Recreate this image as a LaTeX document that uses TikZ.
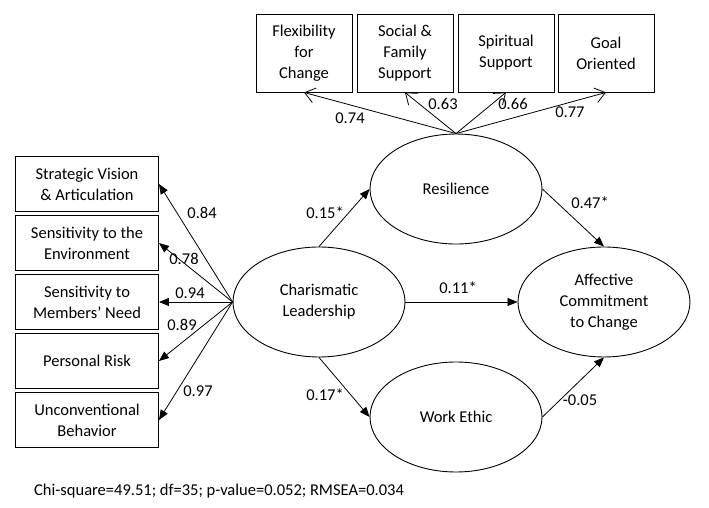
\documentclass[tikz,border=0pt]{standalone}
\usepackage{fontspec}
\setmainfont{Carlito}
\usepackage{tikz}
\usetikzlibrary{arrows.meta,shapes.geometric}
\definecolor{figline}{RGB}{0,0,0}
\newcommand{\fsz}{\fontsize{16.5}{21}\selectfont}
\tikzset{
  ind/.style  ={draw=figline, line width=0.9pt, rectangle, align=center, inner sep=2pt},
  indt/.style ={ind, minimum width=3.374cm, minimum height=2.741cm},
  indl/.style ={ind, minimum width=5.026cm, minimum height=1.933cm},
  lat/.style  ={draw=figline, line width=0.9pt, ellipse, align=center, inner sep=2pt,
                minimum width=6.045cm, minimum height=3.866cm},
  lab/.style  ={font=\fsz, inner sep=1pt},
  ptr/.style  ={draw=figline, line width=0.8pt, -{Triangle[length=10pt,width=8pt]}},
  ptro/.style ={draw=figline, line width=0.8pt, -{Straight Barb[length=10pt,width=15pt]}},
}

\begin{document}
\begin{tikzpicture}[scale=1, every node/.style={font=\fsz}]
  \useasboundingbox (0,0) rectangle (24.919,-17.854);
  % latent variables
  \node[lat] (cha) at (11.212,-10.614) {Charismatic\\Leadership};
  \node[lat] (res) at (16.027,-6.643) {Resilience};
  \node[lat] (we)  at (16.027,-14.656) {Work Ethic};
  \node[lat] (aff) at (21.228,-10.614) {Affective\\Commitment\\to Change};
  % resilience indicators
  \node[indt] (flex) at (10.684,-1.863) {Flexibility\\for\\Change};
  \node[indt] (soc)  at (14.234,-1.863) {Social \&\\Family\\Support};
  \node[indt] (spi)  at (17.784,-1.863) {Spiritual\\Support};
  \node[indt] (goal) at (21.299,-1.863) {Goal\\Oriented};
  % leadership indicators
  \node[indl] (sv) at (3.058,-6.467) {Strategic Vision\\\& Articulation};
  \node[indl] (se) at (3.058,-8.541) {Sensitivity to the\\Environment};
  \node[indl] (sm) at (3.058,-10.614) {Sensitivity to\\Members’ Need};
  \node[indl] (pr) at (3.058,-12.688) {Personal Risk};
  \node[indl] (ub) at (3.058,-14.761) {Unconventional\\Behavior};
  % loadings
  \draw[ptro] (res.north) -- (flex.south);
  \draw[ptro] (res.north) -- (soc.south);
  \draw[ptro] (res.north) -- (spi.south);
  \draw[ptro] (res.north) -- (goal.south);
  \node[lab] at (12.301,-4.147) {0.74};
  \node[lab] at (15.570,-3.655) {0.63};
  \node[lab] at (18.030,-3.655) {0.66};
  \node[lab] at (20.033,-3.936) {0.77};
  \draw[ptr] (cha.west) -- (sv.east);
  \draw[ptr] (cha.west) -- (se.east);
  \draw[ptr] (cha.west) -- (sm.east);
  \draw[ptr] (cha.west) -- (pr.east);
  \draw[ptr] (cha.west) -- (ub.east);
  \node[lab] at (7.100,-7.486) {0.84};
  \node[lab] at (6.467,-9.103) {0.78};
  \node[lab] at (6.678,-10.298) {0.94};
  \node[lab] at (6.397,-11.423) {0.89};
  \node[lab] at (6.959,-13.742) {0.97};
  % structural paths
  \draw[ptr] (cha.north) -- (res.west);
  \node[lab] at (11.423,-7.486) {0.15*};
  \draw[ptr] (cha.south) -- (we.west);
  \node[lab] at (11.423,-13.883) {0.17*};
  \draw[ptr] (cha.east) -- (aff.west);
  \node[lab] at (16.097,-10.122) {0.11*};
  \draw[ptr] (res.east) -- (aff.north);
  \node[lab] at (20.736,-7.135) {0.47*};
  \draw[ptr] (we.east) -- (aff.south);
  \node[lab] at (20.385,-14.059) {-0.05};
  % fit
  \node[lab,anchor=west] (fit) at (1.160,-17.257) {Chi-square=49.51; df=35; p-value=0.052; RMSEA=0.034};
\end{tikzpicture}
\end{document}
